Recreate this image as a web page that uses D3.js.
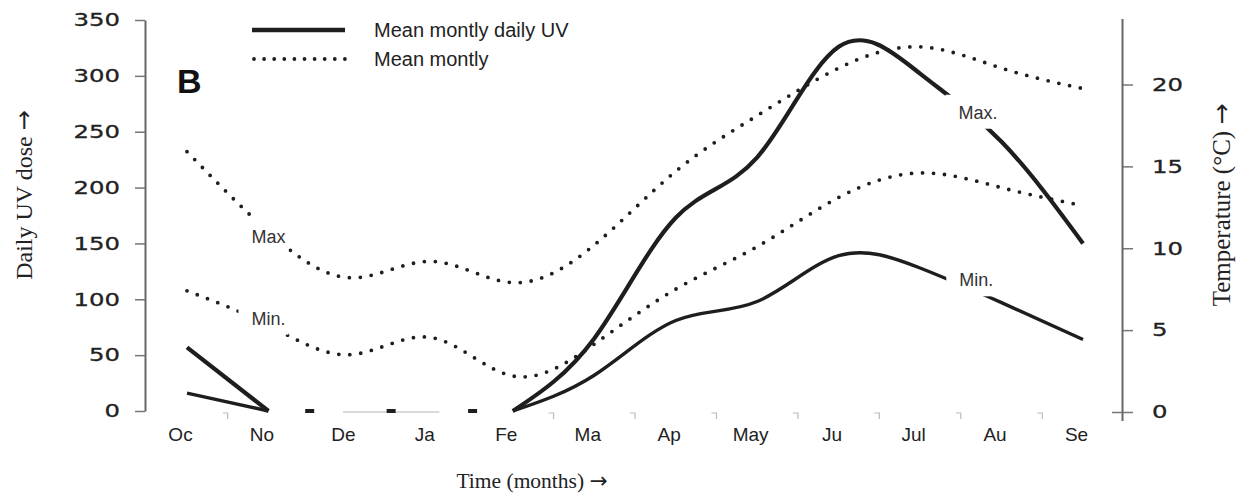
<!DOCTYPE html>
<html>
<head>
<meta charset="utf-8">
<script src="https://cdn.jsdelivr.net/npm/d3@7"></script>
<style>
body { margin: 0; background: #fff; }
svg { display: block; }
</style>
</head>
<body>
<svg id="chart" width="1239" height="494"></svg>
<script>
var months = ["Oc", "No", "De", "Ja", "Fe", "Ma", "Ap", "May", "Ju", "Jul", "Au", "Se"];
// mean monthly daily UV dose (left axis), null where the curve is not drawn
var uvMax = [57, 0, null, null, 0, 65, 173, 227, 326, 302, 241, 150];
var uvMin = [16, 0, null, null, 0, 32, 81, 98, 139, 128, 97, 64];
// mean monthly temperature in degrees C (right axis)
var tMax = [15.9, 11.0, 8.2, 9.2, 7.9, 10.2, 14.7, 18.1, 21.0, 22.3, 21.0, 19.75];
var tMin = [7.4, 5.3, 3.5, 4.55, 2.2, 4.15, 7.5, 10.1, 13.1, 14.6, 13.7, 12.6];
var uvTicks = [0, 50, 100, 150, 200, 250, 300, 350];
var tTicks = [0, 5, 10, 15, 20];
// curve labels: month they sit near, offset in months, value, axis
var curveLabels = [
	{text: "Max", month: "No", shift: 0, value: 10.7, axis: "t"},
	{text: "Min.", month: "No", shift: 0, value: 5.7, axis: "t"},
	{text: "Max.", month: "Au", shift: -0.29, value: 267, axis: "uv"},
	{text: "Min.", month: "Au", shift: -0.31, value: 117, axis: "uv"}
];

var svg = d3.select("#chart");
var ink = "#1e1e1e";

var x = d3.scalePoint().domain(months).range([187, 1083]);
var step = x.step();
var yL = d3.scaleLinear().domain([0, 350]).range([411, 20]);
var yR = d3.scaleLinear().domain([0, 24]).range([412, 19]);

// ---- axes
var axL = svg.append("g")
	.attr("transform", "translate(145,0)")
	.call(d3.axisLeft(yL).tickValues(uvTicks).tickSize(10).tickSizeOuter(0).tickPadding(15));
axL.select(".domain").attr("stroke", "#666").attr("stroke-width", 2);
axL.selectAll(".tick line").attr("stroke", "#777").attr("stroke-width", 1.5);
axL.selectAll(".tick text")
	.style("font-family", "'DejaVu Sans', sans-serif").style("font-size", "18px").attr("fill", "#222")
	.attr("stroke", "#222").attr("stroke-width", 0.3)
	.attr("textLength", function(d) { return String(d).length * 15.5; })
	.attr("lengthAdjust", "spacingAndGlyphs");

var axR = svg.append("g")
	.attr("transform", "translate(1122,0)")
	.call(d3.axisRight(yR).tickValues(tTicks).tickSize(11).tickSizeOuter(0).tickPadding(19));
axR.select(".domain").remove();
axR.append("line").attr("x1", 0.5).attr("x2", 0.5).attr("y1", 19).attr("y2", 421)
	.attr("stroke", "#666").attr("stroke-width", 2);
axR.append("line").attr("x1", -10).attr("x2", 0).attr("y1", yR(0) + 0.5).attr("y2", yR(0) + 0.5)
	.attr("stroke", "#777").attr("stroke-width", 1.5);
axR.selectAll(".tick line").attr("stroke", "#777").attr("stroke-width", 1.5);
axR.selectAll(".tick text")
	.style("font-family", "'DejaVu Sans', sans-serif").style("font-size", "18px").attr("fill", "#222")
	.attr("stroke", "#222").attr("stroke-width", 0.3)
	.attr("textLength", function(d) { return String(d).length * 15.5; })
	.attr("lengthAdjust", "spacingAndGlyphs");

var axB = svg.append("g")
	.attr("transform", "translate(0,411)")
	.call(d3.axisBottom(x).tickSize(0).tickPadding(17));
axB.select(".domain").remove();
axB.selectAll(".tick text")
	.attr("dx", -7)
	.style("font-family", "'Liberation Sans Narrow', 'Liberation Sans', Arial, sans-serif")
	.style("font-size", "19px").attr("fill", "#222");

// little marks between the months on the time axis
var mids = months.slice(1).map(function(m, i) { return (x(months[i]) + x(m)) / 2; });
svg.append("line")
	.attr("x1", x("De") - 7).attr("x2", x("Ja") + 8).attr("y1", 412).attr("y2", 412)
	.attr("stroke", "#ccc").attr("stroke-width", 1.5);
mids.forEach(function(mx, i) {
	if (i >= 1 && i <= 3) {
		svg.append("rect").attr("x", mx - 4).attr("y", 409).attr("width", 9).attr("height", 4).attr("fill", ink);
	} else {
		svg.append("path").attr("d", "M" + (mx - 5) + ",413H" + mx + "V419")
			.attr("fill", "none").attr("stroke", "#bbb").attr("stroke-width", 1.2);
	}
});

// ---- curves
var uvLine = d3.line()
	.defined(function(d) { return d != null; })
	.x(function(d, i) { return x(months[i]); })
	.y(function(d) { return yL(d); })
	.curve(d3.curveNatural);
var tLine = d3.line()
	.x(function(d, i) { return x(months[i]); })
	.y(function(d) { return yR(d); })
	.curve(d3.curveNatural);

svg.append("path").attr("d", tLine(tMax))
	.attr("fill", "none").attr("stroke", ink).attr("stroke-width", 3.8)
	.attr("stroke-linecap", "round").attr("stroke-dasharray", "0 11");
svg.append("path").attr("d", tLine(tMin))
	.attr("fill", "none").attr("stroke", ink).attr("stroke-width", 3.8)
	.attr("stroke-linecap", "round").attr("stroke-dasharray", "0 11");
svg.append("path").attr("d", uvLine(uvMax))
	.attr("fill", "none").attr("stroke", ink).attr("stroke-width", 4.2);
svg.append("path").attr("d", uvLine(uvMin))
	.attr("fill", "none").attr("stroke", ink).attr("stroke-width", 3.4);

// curve labels sit on white patches that break the lines
curveLabels.forEach(function(l) {
	var cx = x(l.month) + l.shift * step;
	var cy = l.axis == "t" ? yR(l.value) : yL(l.value);
	var g = svg.append("g");
	var bg = g.append("rect").attr("fill", "#fff");
	var t = g.append("text").attr("x", cx).attr("y", cy + 6).attr("text-anchor", "middle")
		.style("font-family", "'Liberation Sans', Arial, sans-serif").style("font-size", "18px")
		.attr("fill", "#333").text(l.text);
	var b = t.node().getBBox();
	bg.attr("x", b.x - 13).attr("y", b.y - 8).attr("width", b.width + 16).attr("height", b.height + 14);
});

// ---- panel letter and legend
svg.append("text").attr("x", 177).attr("y", 93)
	.style("font-family", "'Liberation Sans', Arial, sans-serif").style("font-size", "34px")
	.style("font-weight", "bold").attr("fill", "#111").text("B");

svg.append("line").attr("x1", 252).attr("x2", 345).attr("y1", 30).attr("y2", 30)
	.attr("stroke", ink).attr("stroke-width", 4.5);
svg.append("line").attr("x1", 254).attr("x2", 345).attr("y1", 59).attr("y2", 59)
	.attr("stroke", ink).attr("stroke-width", 3.8)
	.attr("stroke-linecap", "round").attr("stroke-dasharray", "0 10.1");
svg.append("text").attr("x", 374).attr("y", 37)
	.style("font-family", "'Liberation Sans', Arial, sans-serif").style("font-size", "20px")
	.attr("fill", "#222").text("Mean montly daily UV");
svg.append("text").attr("x", 374).attr("y", 66)
	.style("font-family", "'Liberation Sans', Arial, sans-serif").style("font-size", "20px")
	.attr("fill", "#222").text("Mean montly");

// ---- axis titles, arrow drawn from a font with a long arrow glyph
function title(sel, label) {
	sel.style("font-family", "'Liberation Serif', 'Times New Roman', serif").attr("fill", "#222");
	sel.append("tspan").text(label + " ");
	sel.append("tspan").style("font-family", "'DejaVu Sans', sans-serif").text("\u2192");
}
svg.append("text").attr("transform", "translate(32,195) rotate(-90)").attr("text-anchor", "middle")
	.style("font-size", "24px").call(title, "Daily UV dose");
svg.append("text").attr("transform", "translate(1230,205) rotate(-90)").attr("text-anchor", "middle")
	.style("font-size", "25px").call(title, "Temperature (\u00b0C)");
svg.append("text").attr("x", 532).attr("y", 488).attr("text-anchor", "middle")
	.style("font-size", "21.5px").call(title, "Time (months)");
</script>
</body>
</html>
